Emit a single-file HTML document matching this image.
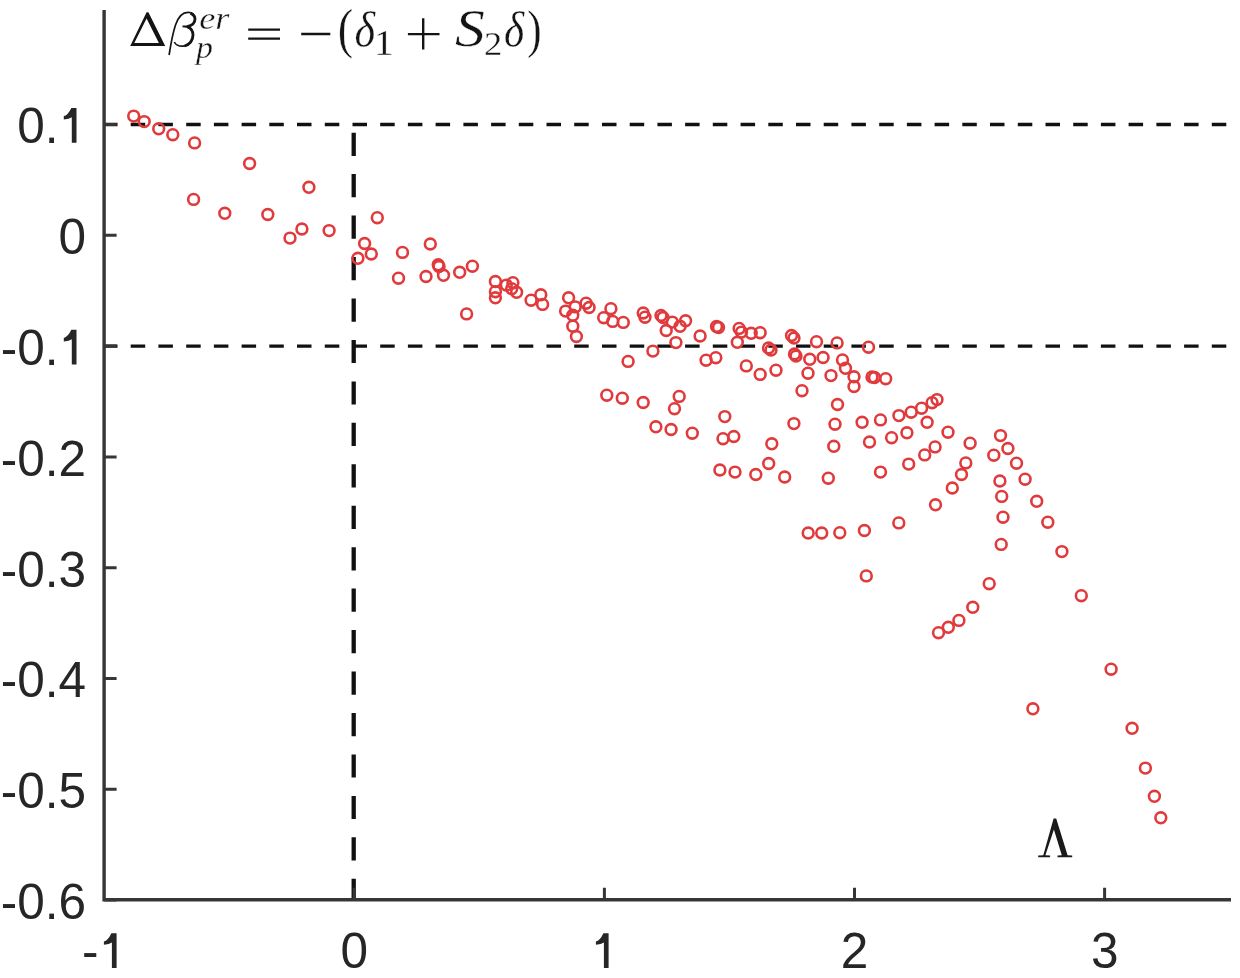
<!DOCTYPE html><html><head><meta charset="utf-8"><style>html,body{margin:0;padding:0;background:#fff;overflow:hidden}svg{display:block}</style></head><body>
<svg width="1240" height="978" viewBox="0 0 1240 978">
<rect width="1240" height="978" fill="#fff"/>
<g>
<path d="M103.0 124.5H117.5M130.7 124.5H145.2M158.4 124.5H172.9M186.2 124.5H200.7M213.9 124.5H228.4M241.6 124.5H256.1M269.3 124.5H283.8M297.0 124.5H311.5M324.8 124.5H339.3M352.5 124.5H367.0M380.2 124.5H394.7M407.9 124.5H422.4M435.6 124.5H450.1M463.4 124.5H477.9M491.1 124.5H505.6M518.8 124.5H533.3M546.5 124.5H561.0M574.2 124.5H588.7M602.0 124.5H616.5M629.7 124.5H644.2M657.4 124.5H671.9M685.1 124.5H699.6M712.8 124.5H727.3M740.6 124.5H755.1M768.3 124.5H782.8M796.0 124.5H810.5M823.7 124.5H838.2M851.4 124.5H865.9M879.2 124.5H893.7M906.9 124.5H921.4M934.6 124.5H949.1M962.3 124.5H976.8M990.0 124.5H1004.5M1017.8 124.5H1032.3M1045.5 124.5H1060.0M1073.2 124.5H1087.7M1100.9 124.5H1115.4M1128.6 124.5H1143.1M1156.4 124.5H1170.9M1184.1 124.5H1198.6M1211.8 124.5H1226.3" stroke="#111" stroke-width="3.4" fill="none"/>
<path d="M103.0 346.1H117.5M130.7 346.1H145.2M158.4 346.1H172.9M186.2 346.1H200.7M213.9 346.1H228.4M241.6 346.1H256.1M269.3 346.1H283.8M297.0 346.1H311.5M324.8 346.1H339.3M352.5 346.1H367.0M380.2 346.1H394.7M407.9 346.1H422.4M435.6 346.1H450.1M463.4 346.1H477.9M491.1 346.1H505.6M518.8 346.1H533.3M546.5 346.1H561.0M574.2 346.1H588.7M602.0 346.1H616.5M629.7 346.1H644.2M657.4 346.1H671.9M685.1 346.1H699.6M712.8 346.1H727.3M740.6 346.1H755.1M768.3 346.1H782.8M796.0 346.1H810.5M823.7 346.1H838.2M851.4 346.1H865.9M879.2 346.1H893.7M906.9 346.1H921.4M934.6 346.1H949.1M962.3 346.1H976.8M990.0 346.1H1004.5M1017.8 346.1H1032.3M1045.5 346.1H1060.0M1073.2 346.1H1087.7M1100.9 346.1H1115.4M1128.6 346.1H1143.1M1156.4 346.1H1170.9M1184.1 346.1H1198.6M1211.8 346.1H1226.3" stroke="#111" stroke-width="3.4" fill="none"/>
<path d="M353.7 878.8V899.7M353.7 837.3V860.5M353.7 795.9V819.1M353.7 754.4V777.6M353.7 713.0V736.2M353.7 671.5V694.8M353.7 630.1V653.3M353.7 588.6V611.8M353.7 547.2V570.4M353.7 505.7V528.9M353.7 464.3V487.5M353.7 422.8V446.0M353.7 381.4V404.6M353.7 339.9V363.1M353.7 298.5V321.7M353.7 257.0V280.2M353.7 215.6V238.8M353.7 174.1V197.3M353.7 132.7V155.9" stroke="#111" stroke-width="4.3" fill="none"/>
<path d="M104.1 10V899.7H1231.0" stroke="#363636" stroke-width="3.4" fill="none"/>
<path d="M104.1 124.5H116.6M104.1 235.3H116.6M104.1 346.1H116.6M104.1 456.9H116.6M104.1 567.7H116.6M104.1 678.5H116.6M104.1 789.2H116.6M104.1 900.0H116.6M354.2 899.7V887.7M604.4 899.7V887.7M854.5 899.7V887.7M1104.6 899.7V887.7" stroke="#363636" stroke-width="3.0" fill="none"/>
<g fill="none" stroke="#e03a3c" stroke-width="2.6"><circle cx="133.7" cy="116.1" r="5.4"/><circle cx="144.2" cy="121.6" r="5.4"/><circle cx="158.7" cy="128.8" r="5.4"/><circle cx="172.8" cy="134.7" r="5.4"/><circle cx="194.6" cy="142.9" r="5.4"/><circle cx="249.6" cy="163.5" r="5.4"/><circle cx="308.9" cy="187.3" r="5.4"/><circle cx="193.6" cy="199.4" r="5.4"/><circle cx="224.8" cy="213.3" r="5.4"/><circle cx="267.8" cy="214.5" r="5.4"/><circle cx="301.9" cy="229" r="5.4"/><circle cx="290" cy="238.1" r="5.4"/><circle cx="329.1" cy="230.6" r="5.4"/><circle cx="364.6" cy="243.5" r="5.4"/><circle cx="357.9" cy="258.3" r="5.4"/><circle cx="377.3" cy="217.7" r="5.4"/><circle cx="371.3" cy="254" r="5.4"/><circle cx="402.5" cy="252.4" r="5.4"/><circle cx="430.3" cy="244" r="5.4"/><circle cx="398.5" cy="278.2" r="5.4"/><circle cx="426" cy="276.5" r="5.4"/><circle cx="438.2" cy="264.8" r="5.4"/><circle cx="439" cy="266.5" r="5.4"/><circle cx="443.5" cy="275.3" r="5.4"/><circle cx="459.7" cy="272.3" r="5.4"/><circle cx="472.4" cy="266.2" r="5.4"/><circle cx="466.6" cy="313.9" r="5.4"/><circle cx="495.4" cy="281.5" r="5.4"/><circle cx="495.4" cy="291.7" r="5.4"/><circle cx="495.4" cy="297.8" r="5.4"/><circle cx="506.3" cy="285.1" r="5.4"/><circle cx="512.9" cy="282.7" r="5.4"/><circle cx="516.6" cy="292.3" r="5.4"/><circle cx="511.7" cy="288.7" r="5.4"/><circle cx="531.1" cy="300.2" r="5.4"/><circle cx="540.8" cy="294.8" r="5.4"/><circle cx="542.6" cy="304.4" r="5.4"/><circle cx="568.6" cy="297.8" r="5.4"/><circle cx="565.6" cy="311.1" r="5.4"/><circle cx="572.8" cy="315.3" r="5.4"/><circle cx="575.2" cy="306.9" r="5.4"/><circle cx="572.8" cy="326.2" r="5.4"/><circle cx="576.4" cy="336.5" r="5.4"/><circle cx="586.1" cy="303.2" r="5.4"/><circle cx="589.1" cy="307.5" r="5.4"/><circle cx="610.9" cy="308.7" r="5.4"/><circle cx="603.7" cy="317.7" r="5.4"/><circle cx="612.7" cy="321.4" r="5.4"/><circle cx="623.3" cy="322.4" r="5.4"/><circle cx="643.2" cy="313" r="5.4"/><circle cx="645" cy="317.2" r="5.4"/><circle cx="661" cy="315.5" r="5.4"/><circle cx="663" cy="317.5" r="5.4"/><circle cx="666.2" cy="330.5" r="5.4"/><circle cx="672.3" cy="322.1" r="5.4"/><circle cx="680.1" cy="326.3" r="5.4"/><circle cx="685.6" cy="320.8" r="5.4"/><circle cx="675.9" cy="342.6" r="5.4"/><circle cx="652.9" cy="351.1" r="5.4"/><circle cx="628.1" cy="361.4" r="5.4"/><circle cx="700.1" cy="336" r="5.4"/><circle cx="716.5" cy="326.5" r="5.4"/><circle cx="718.5" cy="327.5" r="5.4"/><circle cx="706.1" cy="360.2" r="5.4"/><circle cx="715.8" cy="357.7" r="5.4"/><circle cx="739.1" cy="328.4" r="5.4"/><circle cx="741.5" cy="332.1" r="5.4"/><circle cx="751.2" cy="333.3" r="5.4"/><circle cx="760.2" cy="332.7" r="5.4"/><circle cx="737.3" cy="342.3" r="5.4"/><circle cx="768.5" cy="348" r="5.4"/><circle cx="771" cy="350" r="5.4"/><circle cx="791.5" cy="335.5" r="5.4"/><circle cx="794" cy="338" r="5.4"/><circle cx="794.5" cy="354" r="5.4"/><circle cx="796" cy="356" r="5.4"/><circle cx="816.5" cy="341.7" r="5.4"/><circle cx="837.1" cy="342.9" r="5.4"/><circle cx="868.5" cy="347.2" r="5.4"/><circle cx="809.8" cy="359.3" r="5.4"/><circle cx="823.1" cy="357.5" r="5.4"/><circle cx="842.5" cy="359.9" r="5.4"/><circle cx="845.5" cy="368.3" r="5.4"/><circle cx="854" cy="376.8" r="5.4"/><circle cx="854" cy="386.5" r="5.4"/><circle cx="872" cy="377" r="5.4"/><circle cx="874.5" cy="377.5" r="5.4"/><circle cx="746.3" cy="365.9" r="5.4"/><circle cx="760.2" cy="374.4" r="5.4"/><circle cx="776" cy="370.2" r="5.4"/><circle cx="808" cy="373.2" r="5.4"/><circle cx="831" cy="375.6" r="5.4"/><circle cx="802" cy="390.7" r="5.4"/><circle cx="885.7" cy="378.7" r="5.4"/><circle cx="837.5" cy="404.5" r="5.4"/><circle cx="862.1" cy="422.3" r="5.4"/><circle cx="880.5" cy="419.9" r="5.4"/><circle cx="898.9" cy="415.6" r="5.4"/><circle cx="911.2" cy="412.2" r="5.4"/><circle cx="921.6" cy="408.2" r="5.4"/><circle cx="932.1" cy="402.7" r="5.4"/><circle cx="937" cy="399.6" r="5.4"/><circle cx="927.1" cy="422.3" r="5.4"/><circle cx="869.5" cy="442" r="5.4"/><circle cx="891.6" cy="437.7" r="5.4"/><circle cx="906.9" cy="432.8" r="5.4"/><circle cx="948" cy="432.2" r="5.4"/><circle cx="970.1" cy="443.2" r="5.4"/><circle cx="935.1" cy="446.9" r="5.4"/><circle cx="924.7" cy="454.9" r="5.4"/><circle cx="908.7" cy="464.1" r="5.4"/><circle cx="880.5" cy="472.1" r="5.4"/><circle cx="965.8" cy="462.9" r="5.4"/><circle cx="961.5" cy="474.5" r="5.4"/><circle cx="952.3" cy="488" r="5.4"/><circle cx="606.8" cy="395.2" r="5.4"/><circle cx="622.3" cy="398.2" r="5.4"/><circle cx="643.2" cy="402.5" r="5.4"/><circle cx="679.2" cy="396.4" r="5.4"/><circle cx="674.5" cy="408.7" r="5.4"/><circle cx="655.9" cy="426.8" r="5.4"/><circle cx="671.1" cy="429.5" r="5.4"/><circle cx="692.3" cy="433.2" r="5.4"/><circle cx="724.8" cy="416.6" r="5.4"/><circle cx="723" cy="438.7" r="5.4"/><circle cx="719.9" cy="470" r="5.4"/><circle cx="793.9" cy="423.6" r="5.4"/><circle cx="835" cy="424.2" r="5.4"/><circle cx="733.8" cy="436.5" r="5.4"/><circle cx="771.8" cy="443.8" r="5.4"/><circle cx="833.8" cy="446.3" r="5.4"/><circle cx="735" cy="472.1" r="5.4"/><circle cx="755.8" cy="474.5" r="5.4"/><circle cx="768.7" cy="463.5" r="5.4"/><circle cx="784.7" cy="477" r="5.4"/><circle cx="828.3" cy="478.2" r="5.4"/><circle cx="1000.5" cy="435.6" r="5.4"/><circle cx="1007.9" cy="448.5" r="5.4"/><circle cx="993.8" cy="455.2" r="5.4"/><circle cx="1016.5" cy="463.2" r="5.4"/><circle cx="1025.1" cy="479.2" r="5.4"/><circle cx="999.9" cy="481" r="5.4"/><circle cx="1001.7" cy="496.4" r="5.4"/><circle cx="1036.7" cy="501.3" r="5.4"/><circle cx="1003" cy="517.2" r="5.4"/><circle cx="1047.8" cy="522.2" r="5.4"/><circle cx="808.2" cy="533" r="5.4"/><circle cx="821.7" cy="533" r="5.4"/><circle cx="839.8" cy="532.7" r="5.4"/><circle cx="864.4" cy="530.5" r="5.4"/><circle cx="898.8" cy="522.9" r="5.4"/><circle cx="866.3" cy="575.9" r="5.4"/><circle cx="935.5" cy="504.8" r="5.4"/><circle cx="1001.2" cy="544.4" r="5.4"/><circle cx="989.2" cy="583.7" r="5.4"/><circle cx="1061.9" cy="551.6" r="5.4"/><circle cx="972.8" cy="607.3" r="5.4"/><circle cx="958.9" cy="620.4" r="5.4"/><circle cx="948.3" cy="627.3" r="5.4"/><circle cx="938.5" cy="632.7" r="5.4"/><circle cx="1081.3" cy="595.7" r="5.4"/><circle cx="1032.9" cy="708.8" r="5.4"/><circle cx="1111.1" cy="669.2" r="5.4"/><circle cx="1132.1" cy="728.3" r="5.4"/><circle cx="1145.4" cy="768.1" r="5.4"/><circle cx="1154.4" cy="796.3" r="5.4"/><circle cx="1160.8" cy="817.8" r="5.4"/></g>
<g font-family="Liberation Sans" font-size="49.5" fill="#262626" style="filter:grayscale(1)"><text x="17.2" y="142.7">0</text><text x="44.7" y="142.7">.</text><text x="58.5" y="253.6">0</text><text x="0.7" y="364.6">-</text><text x="17.2" y="364.6">0</text><text x="44.7" y="364.6">.</text><text x="0.7" y="475.5">-</text><text x="17.2" y="475.5">0</text><text x="44.7" y="475.5">.</text><text x="58.5" y="475.5">2</text><text x="0.7" y="586.5">-</text><text x="17.2" y="586.5">0</text><text x="44.7" y="586.5">.</text><text x="58.5" y="586.5">3</text><text x="0.7" y="697.4">-</text><text x="17.2" y="697.4">0</text><text x="44.7" y="697.4">.</text><text x="58.5" y="697.4">4</text><text x="0.7" y="808.3">-</text><text x="17.2" y="808.3">0</text><text x="44.7" y="808.3">.</text><text x="58.5" y="808.3">5</text><text x="0.7" y="919.3">-</text><text x="17.2" y="919.3">0</text><text x="44.7" y="919.3">.</text><text x="58.5" y="919.3">6</text><text x="82.1" y="968.0">-</text><text x="340.5" y="968.0">0</text><text x="840.7" y="968.0">2</text><text x="1090.9" y="968.0">3</text></g>
<path fill="#262626" d="M76.5 107.9L76.5 142.7L71.8 142.7L71.8 117.3Q69.3 119.0 63.8 119.5L63.8 116.1Q67.8 115.3 71.3 107.9ZM76.5 329.8L76.5 364.6L71.8 364.6L71.8 339.2Q69.3 340.9 63.8 341.4L63.8 337.9Q67.8 337.2 71.3 329.8ZM116.6 933.2L116.6 968.0L111.9 968.0L111.9 942.6Q109.4 944.3 103.9 944.8L103.9 941.4Q107.9 940.6 111.4 933.2ZM608.6 933.2L608.6 968.0L603.9 968.0L603.9 942.6Q601.4 944.3 595.9 944.8L595.9 941.4Q600.0 940.6 603.4 933.2Z"/>
<path fill="#1a1a1a" d="M1053.6 818.4L1056.2 818.4L1067.6 855.2L1072.2 855.5L1072.2 857.3L1057.5 857.3L1057.5 855.5L1061.8 855.2L1053.9 829.5L1045.4 855.2L1050.1 855.5L1050.1 857.3L1038.2 857.3L1038.2 855.5L1043.3 855.2Z"/>
<path fill="#141414" fill-rule="evenodd" d="M130.2 46.1L165.2 46.1L148.4 12.2L146.6 12.2ZM134.3 42.9L158.9 42.9L146.6 18.4Z"/>
<path fill="#141414" d="M248.2 28.4H280V30.8H248.2ZM248.2 37.4H280V39.8H248.2ZM301.2 32.8H330.3V35.2H301.2ZM407.9 32.9H439.5V35.3H407.9ZM422.0 18.2H424.4V49.4H422.0Z"/>
<g font-family="Liberation Serif" fill="#141414" stroke="#fff" stroke-width="0.35" style="filter:grayscale(1)"><text transform="translate(199.2 28.9) scale(1.126 1)" font-size="32.3" font-style="italic">er</text><text transform="translate(196.0 58.3) scale(1.059 1)" font-size="32.1" font-style="italic">p</text><text transform="translate(337.8 46.8) scale(0.856 1)" font-size="53.9" font-style="normal">(</text><text transform="translate(354.6 46.8) scale(0.875 1)" font-size="50.6" font-style="italic">δ</text><text transform="translate(373.6 55.3) scale(1.165 1)" font-size="35.3" font-style="normal">1</text><text transform="translate(455.1 46.0) scale(1.121 1)" font-size="53.1" font-style="italic">S</text><text transform="translate(484.1 54.8) scale(1.069 1)" font-size="34.2" font-style="normal">2</text><text transform="translate(503.9 46.6) scale(0.864 1)" font-size="50.1" font-style="italic">δ</text><text transform="translate(527.2 46.7) scale(0.809 1)" font-size="53.2" font-style="normal">)</text></g>
<path d="M169.1 55C170.5 46 172.5 34 175.5 25C178 17.5 182.5 12.3 188 12.3C192 12.3 195 14.5 195 19C195 23.5 191.5 26.3 186 26.3L182.5 26.3C189 26.3 193 30 193 35C193 41.5 188.5 46.2 182.5 46.2C178.5 46.2 175.5 44.5 174.3 42" fill="none" stroke="#141414" stroke-width="1.7"/>
<path d="M190.5 13.2C193.5 14.5 195 16.5 195 19C195 23 192 25.8 187.5 26.3M188 27C191.5 28.5 193 31.5 193 35C193 40.5 189.5 45 184.5 46" fill="none" stroke="#141414" stroke-width="2.8"/>
</g></svg></body></html>
